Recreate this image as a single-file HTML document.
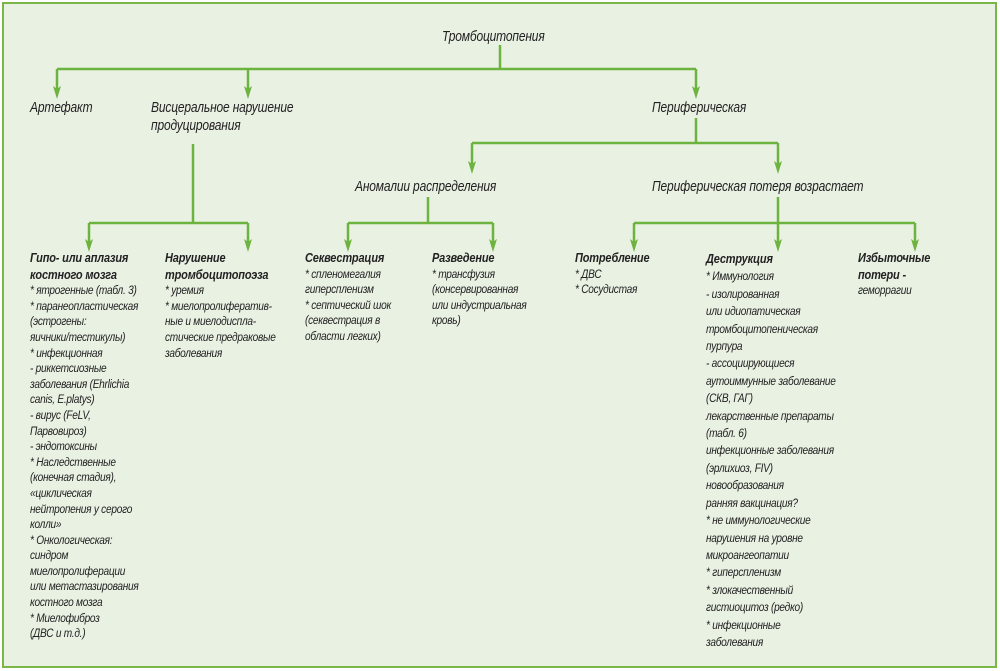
<!DOCTYPE html>
<html><head><meta charset="utf-8"><style>
body{margin:0;width:1000px;height:671px;background:#fff;position:relative;overflow:hidden;font-family:"Liberation Sans",sans-serif;color:#222}
.frame{position:absolute;left:2px;top:2px;width:991px;height:662px;border:2px solid #7ab648;background:#e9f1e3}
.t{position:absolute;font-style:italic;font-size:15px;letter-spacing:-0.2px;line-height:18px;white-space:nowrap;transform:scaleX(0.8);transform-origin:left top}
.c{position:absolute;font-style:italic;font-size:11.5px;letter-spacing:-0.3px;line-height:17px;white-space:nowrap;transform:scaleX(0.88);transform-origin:left top}
.c b{font-size:12.5px;letter-spacing:-0.2px}
svg{position:absolute;left:0;top:0}
</style></head><body>
<div class="frame"></div>
<svg width="1000" height="671" stroke="#6db33f" stroke-width="2.5" fill="none">
<g>
<path d="M500,45V69"/><path d="M57,69H696"/>
<path d="M57,69V90"/><path d="M248,69V90"/><path d="M696,69V90"/>
<path d="M193,144V223"/><path d="M89,223H248"/>
<path d="M89,223V243"/><path d="M248,223V243"/>
<path d="M696,118V143"/><path d="M472,143H778"/>
<path d="M472,143V165"/><path d="M778,143V165"/>
<path d="M428,197V223"/><path d="M348,223H493"/>
<path d="M348,223V243"/><path d="M493,223V243"/>
<path d="M778,197V243"/><path d="M634,223H915"/>
<path d="M634,223V243"/><path d="M915,223V243"/>
</g>
<g fill="#6db33f" stroke="none">
<path d="M53,86 L57,99 L61,86 L57,89z"/>
<path d="M244,86 L248,99 L252,86 L248,89z"/>
<path d="M692,86 L696,99 L700,86 L696,89z"/>
<path d="M85,239 L89,252 L93,239 L89,242z"/>
<path d="M244,239 L248,252 L252,239 L248,242z"/>
<path d="M468,161 L472,174 L476,161 L472,164z"/>
<path d="M774,161 L778,174 L782,161 L778,164z"/>
<path d="M344,239 L348,252 L352,239 L348,242z"/>
<path d="M489,239 L493,252 L497,239 L493,242z"/>
<path d="M630,239 L634,252 L638,239 L634,242z"/>
<path d="M774,239 L778,252 L782,239 L778,242z"/>
<path d="M911,239 L915,252 L919,239 L915,242z"/>
</g></svg>
<div class="t" style="left:442px;top:28px">Тромбоцитопения</div>
<div class="t" style="left:30px;top:99px">Артефакт</div>
<div class="t" style="left:151px;top:99px">Висцеральное нарушение<br>продуцирования</div>
<div class="t" style="left:652px;top:99px">Периферическая</div>
<div class="t" style="left:355px;top:178px">Аномалии распределения</div>
<div class="t" style="left:652px;top:178px">Периферическая потеря возрастает</div>

<div class="c" style="left:30px;top:251px;line-height:15.6px"><b>Гипо- или аплазия</b><br><b>костного мозга</b><br>* ятрогенные (табл. 3)<br>* паранеопластическая<br>(эстрогены:<br>яичники/тестикулы)<br>* инфекционная<br>- риккетсиозные<br>заболевания (Ehrlichia<br>canis, E.platys)<br>- вирус (FeLV,<br>Парвовироз)<br>- эндотоксины<br>* Наследственные<br>(конечная стадия),<br>«циклическая<br>нейтропения у серого<br>колли»<br>* Онкологическая:<br>синдром<br>миелопролиферации<br>или метастазирования<br>костного мозга<br>* Миелофиброз<br>(ДВС и т.д.)</div>
<div class="c" style="left:165px;top:251px;line-height:15.6px"><b>Нарушение</b><br><b>тромбоцитопоэза</b><br>* уремия<br>* миелопролифератив-<br>ные и миелодиспла-<br>стические предраковые<br>заболевания</div>
<div class="c" style="left:305px;top:251px;line-height:15.6px"><b>Секвестрация</b><br>* спленомегалия<br>гиперспленизм<br>* септический шок<br>(секвестрация в<br>области легких)</div>
<div class="c" style="left:432px;top:251px;line-height:15.6px"><b>Разведение</b><br>* трансфузия<br>(консервированная<br>или индустриальная<br>кровь)</div>
<div class="c" style="left:575px;top:251px;line-height:15.6px"><b>Потребление</b><br>* ДВС<br>* Сосудистая</div>
<div class="c" style="left:706px;top:251px;line-height:17.4px"><b>Деструкция</b><br>* Иммунология<br>- изолированная<br>или идиопатическая<br>тромбоцитопеническая<br>пурпура<br>- ассоциирующиеся<br>аутоиммунные заболевание<br>(СКВ, ГАГ)<br>лекарственные препараты<br>(табл. 6)<br>инфекционные заболевания<br>(эрлихиоз, FIV)<br>новообразования<br>ранняя вакцинация?<br>* не иммунологические<br>нарушения на уровне<br>микроангеопатии<br>* гиперспленизм<br>* злокачественный<br>гистиоцитоз (редко)<br>* инфекционные<br>заболевания</div>
<div class="c" style="left:858px;top:251px;line-height:15.6px"><b>Избыточные</b><br><b>потери -</b><br>геморрагии</div>
</body></html>
